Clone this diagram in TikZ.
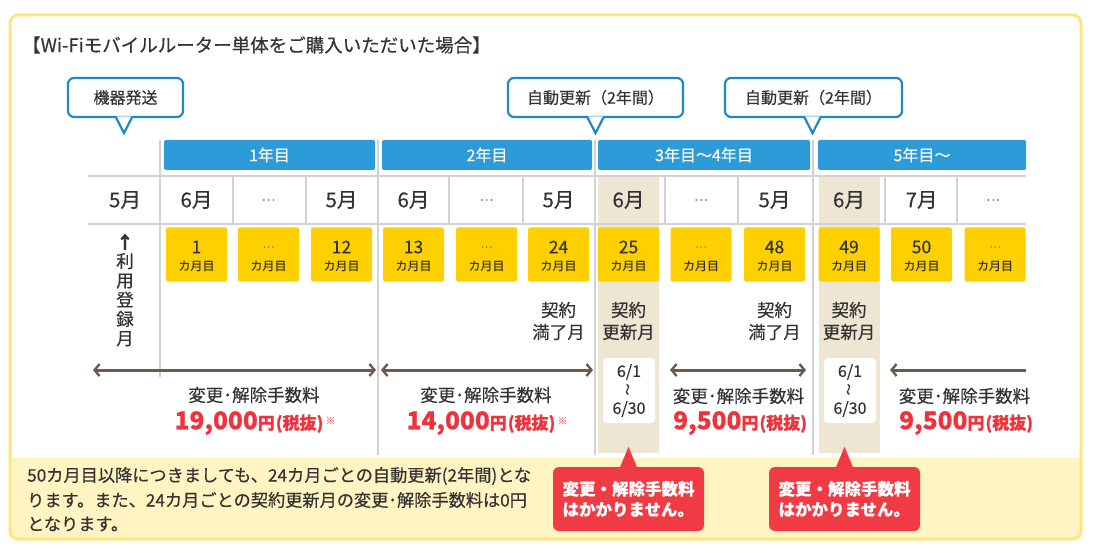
\documentclass[tikz,border=0pt]{standalone}
\usepackage{fontspec}
\setmainfont{Noto Sans CJK JP}[FakeBold=0.4]
\usetikzlibrary{arrows.meta,calc}
\definecolor{frameY}{HTML}{FFE57F}
\definecolor{bandY}{HTML}{FFF4C2}
\definecolor{barB}{HTML}{2C9BD8}
\definecolor{callB}{HTML}{1F88C6}
\definecolor{boxY}{HTML}{FFD000}
\definecolor{beigeC}{HTML}{EEE6D2}
\definecolor{gridG}{HTML}{D2D2D2}
\definecolor{txt}{HTML}{333333}
\definecolor{dotG}{HTML}{7A7A7A}
\definecolor{redT}{HTML}{F0323C}
\definecolor{redC}{HTML}{F03A44}
\definecolor{brownA}{HTML}{6C5C50}
\definecolor{pinkS}{HTML}{F27C84}
\newcommand{\fsz}[1]{\fontsize{#1}{#1}\selectfont}
\newcommand{\amountT}[2]{{\fsz{24.5}#1}{\fsz{17}円\kern1pt(税抜)}#2}
\begin{document}
\begin{tikzpicture}[x=1pt,y=-1pt,
  yearbar/.style={fill=barB, text=white, minimum height=30, inner sep=0, font=\fsz{16}, rounded corners=1.5},
  mon/.style={text=txt, font=\fsz{20.5}, inner sep=0},
  mbox/.style={fill=boxY, minimum width=61, minimum height=54, rounded corners=2, inner sep=0},
  numt/.style={text=txt, font=\fsz{17.5}, inner sep=0},
  kat/.style={text=txt, font=\fsz{12}, inner sep=0},
  bcall/.style={draw=callB, line width=2.2, fill=white, rounded corners=6, minimum height=39, inner sep=0, font=\fsz{16}, text=txt},
  bptr/.style={fill=white, draw=callB, line width=2.2, line join=miter},
  rcall/.style={fill=redC, rounded corners=6, minimum width=151, minimum height=64, text=white, font=\fontsize{16.5}{20.5}\selectfont\bfseries, align=left, inner sep=0},
  gridln/.style={gridG, line width=1.5},
  feearrow/.style={brownA, line width=3},
  lab/.style={text=txt, font=\fsz{17.5}, inner sep=0},
  amt/.style={text=redT, font=\bfseries, inner sep=0},
  datebox/.style={fill=white, rounded corners=4, minimum width=52, minimum height=65, inner sep=0, text=txt, font=\fontsize{16}{18.5}\selectfont, align=center},
  notet/.style={text=txt, font=\fsz{17.2}, inner sep=0, anchor=west}
]
\useasboundingbox (0,0) rectangle (1094,553);
% frame
\fill[white, rounded corners=8] (10,15) rectangle (1081,539);
\fill[bandY] (11,458) -- (1080,458) [rounded corners=7] -- (1080,538) -- (11,538) [sharp corners] -- cycle;
\draw[frameY, line width=3, rounded corners=8] (10,15) rectangle (1081,539);
% title
\node[anchor=west, font=\fsz{18.5}, text=txt, inner sep=0] (title) at (22,45) {【Wi-Fiモバイルルーター単体をご購入いただいた場合】};
% beige columns
\fill[beigeC] (598,181) rectangle (659,453);
\fill[beigeC] (818.5,181) rectangle (879.5,453);
% grid
\draw[gridln] (88,176) -- (1026,176);
\draw[gridln] (88,224) -- (1026,224);
\draw[gridln] (160,140) -- (160,377);
\draw[gridln] (378,140) -- (378,455);
\draw[gridln] (595,140) -- (595,455);
\draw[gridln] (813,140) -- (813,455);
\foreach \x in {233,306,449,523,665,738,885,957}{
  \draw[gridln] (\x,176) -- (\x,224);
}
\fill[beigeC] (598,177) rectangle (659,223);
\fill[beigeC] (818.5,177) rectangle (879.5,223);
% year bars
\node[yearbar, minimum width=211] (y1) at (269.5,155) {1年目};
\node[yearbar, minimum width=210] (y2) at (487,155) {2年目};
\node[yearbar, minimum width=212] (y3) at (704,155) {3年目〜4年目};
\node[yearbar, minimum width=208] (y4) at (922,155) {5年目〜};
% months
\foreach \i/\x/\t in {0/125/5月,1/196.5/6月,2/268.5/{\fsz{13}\color{dotG}…},3/341.5/5月,4/413.5/6月,5/486.5/{\fsz{13}\color{dotG}…},6/558.5/5月,7/628.5/6月,8/701/{\fsz{13}\color{dotG}…},9/774.5/5月,10/849/6月,11/921.5/7月,12/993/{\fsz{13}\color{dotG}…}}{
  \node[mon] (mo\i) at (\x,200) {\t};
}
% month boxes
\foreach \i/\x/\num in {1/196.5/1,2/268.5/{\fsz{11}\color{dotG}…},3/341.5/12,4/413.5/13,5/486.5/{\fsz{11}\color{dotG}…},6/558.5/24,7/628.5/25,8/701/{\fsz{11}\color{dotG}…},9/774.5/48,10/849/49,11/921.5/50,12/995/{\fsz{11}\color{dotG}…}}{
  \node[mbox] (mb\i) at (\x,254.5) {};
  \node[numt] (mn\i) at (\x,247) {\num};
  \node[kat] (mk\i) at (\x,266) {カ月目};
}
% left vertical label
\node[text=txt, font=\fontsize{17.5}{19.3}\selectfont, align=center, inner sep=0] (reg) at (125,290) {{\bfseries ↑}\\利\\用\\登\\録\\月};
% contract labels
\node[lab, align=center, font=\fontsize{17.5}{22}\selectfont] (k24) at (558.5,321) {契約\\満了月};
\node[lab, align=center, font=\fontsize{17.5}{22}\selectfont] (k25) at (628.5,321) {契約\\更新月};
\node[lab, align=center, font=\fontsize{17.5}{22}\selectfont] (k48) at (774.5,321) {契約\\満了月};
\node[lab, align=center, font=\fontsize{17.5}{22}\selectfont] (k49) at (849,321) {契約\\更新月};
% date boxes
\node[datebox] (d1) at (629,390.5) {6/1\\\rotatebox{90}{\fsz{12}〜}\\6/30};
\node[datebox] (d2) at (850,390.5) {6/1\\\rotatebox{90}{\fsz{12}〜}\\6/30};
% fee arrows
\coordinate (a1s) at (93,370); \coordinate (a1e) at (376,370);
\coordinate (a2s) at (381,370); \coordinate (a2e) at (593,370);
\coordinate (a3s) at (670,370); \coordinate (a3e) at (806,370);
\coordinate (a4s) at (890,370); \coordinate (a4e) at (1026,370);
\draw[feearrow, {Straight Barb[length=5pt,width=12pt,line width=2.4pt]}-{Straight Barb[length=5pt,width=12pt,line width=2.4pt]}] (a1s) -- (a1e);
\draw[feearrow, {Straight Barb[length=5pt,width=12pt,line width=2.4pt]}-{Straight Barb[length=5pt,width=12pt,line width=2.4pt]}] (a2s) -- (a2e);
\draw[feearrow, {Straight Barb[length=5pt,width=12pt,line width=2.4pt]}-{Straight Barb[length=5pt,width=12pt,line width=2.4pt]}] (a3s) -- (a3e);
\draw[feearrow, {Straight Barb[length=5pt,width=12pt,line width=2.4pt]}-] (a4s) -- (a4e);
% fee labels
\node[lab] (f1) at (254,395) {変更･解除手数料};
\node[lab] (f2) at (486,395) {変更･解除手数料};
\node[lab] (f3) at (738.5,396) {変更･解除手数料};
\node[lab] (f4) at (964.5,396) {変更･解除手数料};
\node[amt] (p1) at (255,423) {\amountT{19,000}{\kern2pt\raisebox{5pt}{\fsz{10}\color{pinkS}※}}};
\node[amt] (p2) at (487,423) {\amountT{14,000}{\kern2pt\raisebox{5pt}{\fsz{10}\color{pinkS}※}}};
\node[amt, anchor=west] (p3) at (673,423) {\amountT{9,500}{}};
\node[amt, anchor=west] (p4) at (899,423) {\amountT{9,500}{}};
% blue callouts
\node[bcall, minimum width=115] (c1) at (125.5,97.5) {機器発送};
\node[bcall, minimum width=175] (c2) at (595.5,97.5) {自動更新（2年間）};
\node[bcall, minimum width=177] (c3) at (813.5,97.5) {自動更新（2年間）};
\foreach \c/\dx in {c1/-1.5,c2/0,c3/-1}{
  \filldraw[bptr] ($(\c.south)+(\dx-8.5,-1.6)$) -- ($(\c.south)+(\dx,15)$) -- ($(\c.south)+(\dx+8.5,-1.6)$);
}
% note
\node[notet] (n1) at (27,476) {50カ月目以降につきましても、24カ月ごとの自動更新(2年間)とな};
\node[notet] (n2) at (27,500) {ります。また、24カ月ごとの契約更新月の変更･解除手数料は0円};
\node[notet] (n3) at (27,524) {となります。};
% red callouts
\node[rcall] (r1) at (628.5,499) {変更・解除手数料\\はかかりません。};
\node[rcall] (r2) at (844.5,499) {変更・解除手数料\\はかかりません。};
\fill[redC] ($(r1.north)+(-8.5,0.5)$) -- ($(r1.north)+(0,-20)$) -- ($(r1.north)+(8.5,0.5)$) -- cycle;
\fill[redC] ($(r2.north)+(-8.5,0.5)$) -- ($(r2.north)+(0,-20)$) -- ($(r2.north)+(8.5,0.5)$) -- cycle;
\end{tikzpicture}
\end{document}
